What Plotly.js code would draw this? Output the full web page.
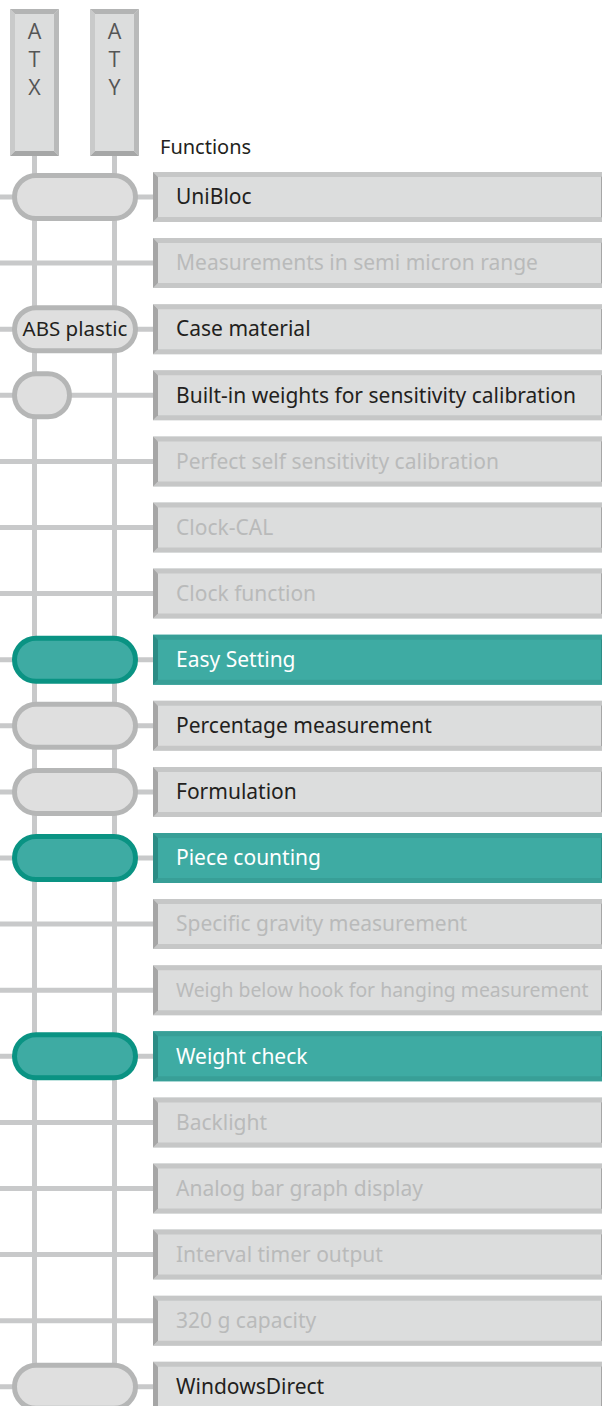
<!DOCTYPE html>
<html>
<head>
<meta charset="utf-8">
<script src="https://cdn.plot.ly/plotly-3.0.1.min.js"></script>
<style>
html,body{margin:0;padding:0;background:#fff;}
#chart{width:602px;height:1406px;}
</style>
</head>
<body>
<div id="chart"></div>
<script>
// ---------- data ----------
const models = ["ATX", "ATY"];
const functions = [
  "UniBloc",
  "Measurements in semi micron range",
  "Case material",
  "Built-in weights for sensitivity calibration",
  "Perfect self sensitivity calibration",
  "Clock-CAL",
  "Clock function",
  "Easy Setting",
  "Percentage measurement",
  "Formulation",
  "Piece counting",
  "Specific gravity measurement",
  "Weigh below hook for hanging measurement",
  "Weight check",
  "Backlight",
  "Analog bar graph display",
  "Interval timer output",
  "320 g capacity",
  "WindowsDirect"
];
// standard = available, absent = not available, highlight = featured
const featureState = [
  "standard","absent","standard","standard","absent","absent","absent",
  "highlight","standard","standard","highlight","absent","absent",
  "highlight","absent","absent","absent","absent","standard"
];
// which models carry the function: both / ATX only / none
const modelMark = [
  "both","none","both","ATX","none","none","none",
  "both","both","both","both","none","none",
  "both","none","none","none","none","both"
];
const markLabel = [
  "","","ABS plastic","","","","","","","","","","","","","","","",""
];

// ---------- geometry / style ----------
const W = 602, H = 1406;
const rowTop = 172, rowStep = 66.1, boxH = 50;
const boxX0 = 153, boxX1 = 606;
const colX = {ATX: 34.5, ATY: 114.5};
const pillX0 = 12, pillBothX1 = 138, pillOneX1 = 72, pillH = 48;
const lineCol = "#c8c9ca";
const FONT = "Noto Sans, Open Sans, DejaVu Sans, sans-serif";
const labelSize = 21, labelX = 176, labelMaxW = 413;

const style = {
  standard:  {fill:"#dcdddd", top:"#c6c7c7", bot:"#c6c7c7", side:"#a6a6a6", text:"#231f20"},
  absent:    {fill:"#dcdddd", top:"#c6c7c7", bot:"#c6c7c7", side:"#a6a6a6", text:"#b9baba"},
  highlight: {fill:"#3eaba3", top:"#389f97", bot:"#389f97", side:"#2c8c85", text:"#ffffff"}
};
const pillStyle = {
  standard: {fill:"#dfdfdf", line:"#b5b6b6"},
  highlight:{fill:"#3eaba3", line:"#0a9383"}
};

const rowCenter = i => rowTop + boxH / 2 + i * rowStep;

// shrink a label only if it would overflow its box
const ctx = document.createElement("canvas").getContext("2d");
function fitSize(txt) {
  ctx.font = labelSize + "px 'Noto Sans'";
  const w = ctx.measureText(txt).width;
  return w > labelMaxW ? labelSize * labelMaxW / w : labelSize;
}

const shapes = [];
function rect(x0, y0, x1, y1, color) {
  shapes.push({type:"rect", xref:"x", yref:"y", x0, y0, x1, y1,
    fillcolor:color, line:{width:0}, layer:"below"});
}
function poly(pts, color) {
  const d = "M" + pts.map(p => p[0] + "," + p[1]).join("L") + "Z";
  shapes.push({type:"path", xref:"x", yref:"y", path:d,
    fillcolor:color, line:{width:0}, layer:"below"});
}
function bevelBox(x0, y0, x1, y1, b, c) {
  rect(x0, y0, x1, y1, c.fill);
  poly([[x0,y0],[x1,y0],[x1-b,y0+b],[x0+b,y0+b]], c.top);
  poly([[x0,y1],[x1,y1],[x1-b,y1-b],[x0+b,y1-b]], c.bot);
  poly([[x0,y0],[x0+b,y0+b],[x0+b,y1-b],[x0,y1]], c.left || c.side);
  poly([[x1,y0],[x1-b,y0+b],[x1-b,y1-b],[x1,y1]], c.right || c.side);
}
function pill(x0, y0, x1, y1, fill, line, lw) {
  const h = lw / 2;
  x0 += h; x1 -= h; y0 += h; y1 -= h;
  const r = (y1 - y0) / 2, yc = (y0 + y1) / 2, k = 0.5523 * r;
  const d = `M${x0+r},${y0} L${x1-r},${y0} ` +
    `C${x1-r+k},${y0} ${x1},${yc-k} ${x1},${yc} ` +
    `C${x1},${yc+k} ${x1-r+k},${y1} ${x1-r},${y1} ` +
    `L${x0+r},${y1} ` +
    `C${x0+r-k},${y1} ${x0},${yc+k} ${x0},${yc} ` +
    `C${x0},${yc-k} ${x0+r-k},${y0} ${x0+r},${y0} Z`;
  shapes.push({type:"path", xref:"x", yref:"y", path:d,
    fillcolor:fill, line:{color:line, width:lw}, layer:"below"});
}

// header columns
const headTop = 9, headBot = 156, headW = 49;
models.forEach(m => {
  const cx = colX[m];
  bevelBox(cx - headW/2, headTop, cx + headW/2, headBot, 5,
    {fill:"#dcdddd", top:"#b3b4b4", bot:"#a6a7a7", left:"#c9caca", right:"#b9baba"});
});

// vertical connector lines
models.forEach(m => {
  rect(colX[m] - 2.5, headBot, colX[m] + 2.5, H, lineCol);
});

// rows
functions.forEach((f, i) => {
  const yc = rowCenter(i);
  rect(0, yc - 2.5, boxX0, yc + 2.5, lineCol);
  bevelBox(boxX0, yc - boxH/2, boxX1, yc + boxH/2, 5, style[featureState[i]]);
  const mk = modelMark[i];
  if (mk !== "none") {
    const ps = featureState[i] === "highlight" ? pillStyle.highlight : pillStyle.standard;
    const x1 = mk === "both" ? pillBothX1 : pillOneX1;
    pill(pillX0, yc - pillH/2, x1, yc + pillH/2, ps.fill, ps.line, 5);
  }
});

// ---------- traces ----------
const labelTrace = {
  type:"scatter", mode:"text",
  x: functions.map(() => labelX),
  y: functions.map((f, i) => rowCenter(i) + 2),
  text: functions,
  textposition:"middle right",
  textfont:{family:FONT, size: functions.map(fitSize),
            color: featureState.map(s => style[s].text)},
  hoverinfo:"skip", showlegend:false, cliponaxis:false
};
const pillLabelIdx = markLabel.map((t, i) => t ? i : -1).filter(i => i >= 0);
const pillLabelTrace = {
  type:"scatter", mode:"text",
  x: pillLabelIdx.map(() => (pillX0 + pillBothX1) / 2),
  y: pillLabelIdx.map(i => rowCenter(i) + 2),
  text: pillLabelIdx.map(i => markLabel[i]),
  textposition:"middle center",
  textfont:{family:FONT, size:20.5, color:"#231f20"},
  hoverinfo:"skip", showlegend:false, cliponaxis:false
};
// model names written vertically, one letter per line
const headTrace = {
  type:"scatter", mode:"text",
  x: models.map(m => colX[m]),
  y: models.map(() => 62),
  text: models.map(m => m.split("").join("<br>")),
  textposition:"middle center",
  textfont:{family:"Open Sans, Noto Sans, sans-serif", size:21.5, color:"#555555"},
  hoverinfo:"skip", showlegend:false, cliponaxis:false
};
const titleTrace = {
  type:"scatter", mode:"text",
  x:[160], y:[149], text:["Functions"],
  textposition:"middle right",
  textfont:{family:FONT, size:20, color:"#231f20"},
  hoverinfo:"skip", showlegend:false, cliponaxis:false
};

const layout = {
  width: W, height: H,
  margin:{l:0, r:0, t:0, b:0, pad:0},
  paper_bgcolor:"#ffffff", plot_bgcolor:"#ffffff",
  xaxis:{range:[0, W], visible:false, fixedrange:true},
  yaxis:{range:[H, 0], visible:false, fixedrange:true},
  shapes: shapes,
  showlegend:false
};

Plotly.newPlot("chart", [labelTrace, pillLabelTrace, headTrace, titleTrace], layout,
  {staticPlot:true, displayModeBar:false});
</script>
</body>
</html>
